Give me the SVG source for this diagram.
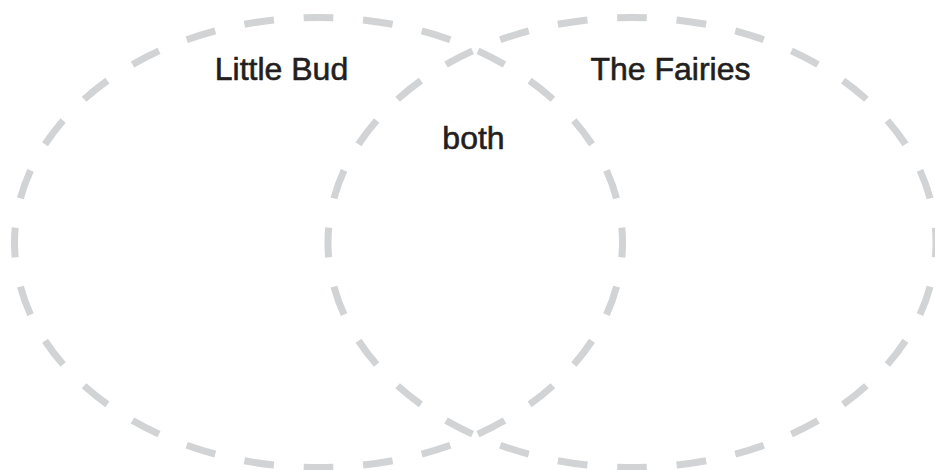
<svg xmlns="http://www.w3.org/2000/svg" width="935" height="470" viewBox="0 0 935 470">
  <style>
    .set { fill: none; stroke: #d1d3d4; stroke-width: 7; stroke-dasharray: 30 30; stroke-dashoffset: 15; }
    .label { font-family: "Liberation Sans", Arial, sans-serif; font-size: 32px; fill: #231f20; stroke: #231f20; stroke-width: 0.6; text-anchor: middle; }
  </style>
  <rect width="935" height="470" fill="#ffffff"/>
  <g id="little-bud">
    <ellipse class="set" cx="318.5" cy="242.5" rx="304" ry="225" pathLength="1680"/>
    <text class="label" x="281.5" y="79.5">Little Bud</text>
  </g>
  <g id="the-fairies">
    <ellipse class="set" cx="632" cy="242.5" rx="304" ry="225" pathLength="1680"/>
    <text class="label" x="670.5" y="79.5">The Fairies</text>
  </g>
  <g id="both">
    <text class="label" x="473.5" y="148.5">both</text>
  </g>
  <g id="connectors"></g>
</svg>
